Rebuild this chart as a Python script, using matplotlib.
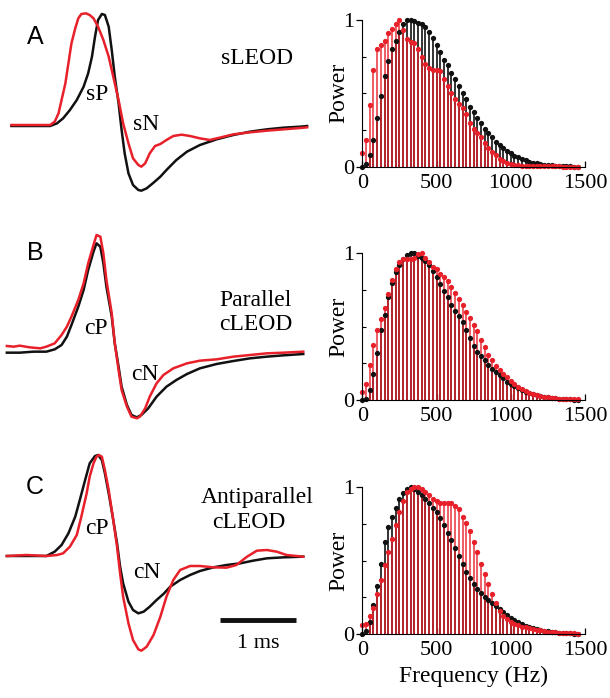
import numpy as np
import matplotlib as mpl
import matplotlib.pyplot as plt

mpl.rc('font', family='Liberation Serif', size=16)

RED = '#e8202a'
BLACK = '#111111'

# power spectra, 25 Hz bins
freqs = np.arange(0, 1475, 25)

pow_a_black = [0, .016, .08, .18, .33, .48, .62, .72, .80, .86, .92, .97, 1.0, 1.0, .99, .98, .97, .955,
               .92, .88, .83, .78, .73, .69, .64, .60, .55, .50, .46, .41, .375, .335, .295, .26, .23,
               .20, .17, .148, .125, .107, .09, .075, .063, .052, .043, .035, .028, .023, .018, .014,
               .011, .009, .007, .005, .004, .003, .002, .001, .001]
pow_a_red = [.09, .18, .42, .66, .80, .83, .86, .91, .94, .97, 1.0, .93, .87, .85, .84, .80, .75, .70,
             .67, .66, .66, .65, .60, .55, .50, .46, .43, .40, .36, .30, .26, .23, .20, .16, .13, .10,
             .08, .055, .04, .025, .018, .013, .01, .008, .007, .006, .005, .004, .004, .003, .003,
             .002, .002, .002, .001, .001, .001, .001, .001]
pow_b_black = [0, .01, .07, .18, .32, .48, .58, .70, .80, .87, .92, .96, .99, 1.0, 1.0, .98, .97, .95,
               .92, .88, .84, .79, .74, .70, .65, .61, .57, .53, .48, .42, .37, .33, .30, .27, .24,
               .21, .19, .17, .15, .125, .11, .095, .08, .068, .057, .048, .04, .033, .027, .022,
               .018, .014, .011, .009, .007, .005, .004, .003, .002]
pow_b_red = [.057, .11, .24, .375, .48, .55, .63, .72, .82, .89, .94, .96, .96, .96, .97, .995, 1.0,
             .97, .94, .91, .89, .86, .84, .81, .77, .73, .69, .65, .60, .56, .51, .47, .41, .36, .31,
             .27, .23, .205, .18, .155, .13, .11, .09, .075, .06, .05, .04, .035, .028, .022, .018,
             .015, .012, .01, .008, .007, .006, .005, .005]
pow_c_black = [0, .02, .08, .20, .33, .48, .63, .73, .80, .86, .92, .96, .99, 1.0, .99, .97, .95, .92,
               .89, .86, .83, .79, .74, .69, .64, .585, .53, .475, .42, .38, .34, .31, .28, .255, .23,
               .21, .19, .17, .15, .13, .11, .095, .08, .068, .057, .048, .04, .033, .027, .022,
               .018, .014, .011, .009, .007, .005, .004, .003, .002]
pow_c_red = [.06, .07, .12, .18, .27, .37, .47, .56, .65, .74, .83, .91, .97, .99, 1.0, 1.0, .99, .97,
             .95, .92, .91, .895, .89, .89, .89, .875, .85, .80, .76, .70, .63, .56, .48, .41, .34,
             .27, .21, .16, .125, .10, .085, .07, .06, .05, .045, .04, .035, .03, .025, .02, .017,
             .014, .011, .009, .007, .006, .005, .004, .003]

# waveforms: time (ms), amplitude (a.u.)
wa_black_t = [.15, .66, .75, .83, .92, 1.01, 1.10, 1.16, 1.21, 1.25, 1.29, 1.34, 1.38, 1.43, 1.47, 1.51,
              1.56, 1.60, 1.64, 1.69, 1.75, 1.82, 1.86, 1.93, 2.02, 2.11, 2.19, 2.32, 2.46, 2.63, 2.85,
              3.07, 3.29, 3.51, 3.73, 3.95, 4.04]
wa_black_v = [-3, -3, 5, 20, 45, 75, 115, 155, 205, 265, 315, 333, 330, 295, 225, 145, 65, -15, -85,
              -145, -180, -195, -197, -190, -173, -155, -135, -105, -80, -60, -43, -30, -20, -13, -8,
              -5, -3]
wa_red_t = [.15, .66, .72, .77, .81, .86, .90, .94, .99, 1.03, 1.07, 1.13, 1.18, 1.23, 1.29, 1.36, 1.43,
            1.49, 1.56, 1.62, 1.69, 1.75, 1.82, 1.86, 1.91, 1.97, 2.04, 2.11, 2.19, 2.28, 2.39, 2.50,
            2.63, 2.76, 2.89, 3.07, 3.29, 3.51, 3.73, 3.95, 4.04]
wa_red_v = [0, 0, 10, 35, 75, 125, 185, 245, 290, 320, 333, 335, 330, 320, 295, 255, 205, 145, 75, 5,
            -55, -100, -120, -125, -115, -85, -63, -57, -45, -33, -29, -33, -40, -45, -38, -28, -22,
            -17, -13, -9, -7]

wb_black_t = [.09, .26, .44, .61, .72, .81, .88, .94, 1.03, 1.10, 1.16, 1.23, 1.27, 1.32, 1.36, 1.40,
              1.47, 1.51, 1.56, 1.60, 1.67, 1.73, 1.80, 1.86, 1.95, 2.06, 2.19, 2.32, 2.46, 2.63, 2.85,
              3.07, 3.29, 3.51, 3.73, 3.99]
wb_black_v = [2, 2, 5, 5, 12, 25, 50, 85, 140, 190, 250, 305, 330, 320, 270, 200, 110, 30, -40, -100,
              -155, -185, -192, -185, -165, -130, -100, -80, -62, -45, -32, -23, -15, -10, -6, -2]
wb_red_t = [.09, .18, .26, .39, .53, .61, .72, .81, .88, .94, 1.03, 1.10, 1.16, 1.23, 1.27, 1.32, 1.36,
            1.40, 1.47, 1.51, 1.56, 1.60, 1.67, 1.73, 1.80, 1.84, 1.91, 1.97, 2.06, 2.15, 2.28, 2.46,
            2.63, 2.85, 3.07, 3.29, 3.51, 3.73, 3.99]
wb_red_v = [22, 20, 23, 18, 15, 20, 30, 55, 80, 110, 160, 210, 270, 325, 355, 350, 300, 220, 120, 30,
            -50, -110, -160, -190, -195, -190, -165, -130, -90, -65, -45, -30, -22, -18, -10, -5, 0,
            2, 5]

wc_black_t = [.09, .35, .61, .72, .81, .90, .99, 1.05, 1.12, 1.18, 1.25, 1.29, 1.34, 1.38, 1.43, 1.49,
              1.54, 1.58, 1.62, 1.69, 1.75, 1.82, 1.89, 1.97, 2.06, 2.15, 2.24, 2.37, 2.50, 2.63, 2.81,
              2.98, 3.16, 3.33, 3.51, 3.73, 3.99]
wc_black_v = [0, 0, 0, 13, 33, 68, 118, 168, 228, 278, 300, 303, 288, 248, 188, 108, 38, -32, -82,
              -137, -162, -172, -167, -152, -132, -114, -92, -72, -57, -45, -34, -27, -22, -14, -7,
              -4, -2]
wc_red_t = [.09, .35, .61, .75, .83, .92, 1.01, 1.07, 1.14, 1.18, 1.23, 1.27, 1.30, 1.34, 1.38, 1.43,
            1.49, 1.54, 1.58, 1.62, 1.69, 1.75, 1.82, 1.86, 1.93, 2.02, 2.11, 2.19, 2.28, 2.37, 2.50,
            2.63, 2.81, 2.98, 3.11, 3.25, 3.38, 3.51, 3.64, 3.77, 3.99]
wc_red_v = [0, 3, 0, 3, 8, 28, 63, 118, 188, 238, 278, 298, 303, 298, 258, 198, 108, 28, -52, -122,
            -202, -252, -280, -284, -272, -237, -182, -122, -72, -42, -30, -30, -34, -35, -27, -2,
            16, 18, 13, 3, -2]

W, H = 610, 698
fig = plt.figure(figsize=(W / 100, H / 100), dpi=100)


def px_axes(x0, y0, x1, y1):
    return fig.add_axes([x0 / W, 1 - y1 / H, (x1 - x0) / W, (y1 - y0) / H])


def wave_panel(top, bottom, ylim, black, red, letter, labels):
    ax = px_axes(0, top, 320, bottom)
    ax.plot(*black, color=BLACK, lw=1.8, solid_joinstyle='round')
    ax.plot(*red, color=RED, lw=1.8, solid_joinstyle='round')
    ax.set_xlim(0, 4.21)
    ax.set_ylim(*ylim)
    ax.axis('off')
    ax.text(0.11, letter[1], letter[0], transform=ax.transAxes, family='Liberation Sans',
            fontsize=18, ha='center', va='center')
    for txt, x, y in labels:
        ax.text(x, y, txt, transform=ax.transAxes, fontsize=17, ha='center', va='center')
    return ax


def spec_panel(top, black, red, xlabel=False):
    ax = px_axes(362.3, top, 585, top + 146.7)
    ax.vlines(freqs, 0, black, color=BLACK, lw=1.2)
    ax.vlines(freqs, 0, red, color=RED, lw=1.2, alpha=0.85)
    ax.plot(freqs, black, 'o', color=BLACK, ms=3.8, mew=0, clip_on=False)
    ax.plot(freqs, red, 'o', color=RED, ms=3.8, mew=0, clip_on=False)
    ax.set_xlim(0, 1500)
    ax.set_ylim(0, 1)
    ax.spines[['top', 'right']].set_visible(False)
    ax.set_xticks([0, 500, 1000, 1500])
    ax.set_yticks([0, 1])
    ax.set_yticks([0.25, 0.5, 0.75], minor=True)
    ax.tick_params(axis='x', direction='in', length=4, width=0.9, pad=5)
    ax.tick_params(axis='y', direction='out', length=4, width=0.9, pad=2)
    ax.tick_params(axis='y', which='minor', direction='in', length=3, width=0.8)
    ax.set_ylabel('Power', fontsize=17)
    ax.yaxis.set_label_coords(-0.06, 0.5)
    if xlabel:
        ax.set_xlabel('Frequency (Hz)', fontsize=17, labelpad=4)
    return ax


wave_panel(0, 200, (-225, 375), (wa_black_t, wa_black_v), (wa_red_t, wa_red_v),
           ('A', 0.815), [('sLEOD', 0.803, 0.71), ('sP', 0.303, 0.525), ('sN', 0.456, 0.375)])
wave_panel(220, 420, (-200, 400), (wb_black_t, wb_black_v), (wb_red_t, wb_red_v),
           ('B', 0.835), [('Parallel', 0.80, 0.60), ('cLEOD', 0.80, 0.475),
                          ('cP', 0.30, 0.46), ('cN', 0.453, 0.225)])
axc = wave_panel(440, 670, (-342, 348), (wc_black_t, wc_black_v), (wc_red_t, wc_red_v),
                 ('C', 0.796), [('Antiparallel', 0.803, 0.748), ('cLEOD', 0.778, 0.643),
                                ('cP', 0.303, 0.617), ('cN', 0.459, 0.422)])
# 1 ms scale bar
axc.plot([2.895, 3.895], [-192, -192], color=BLACK, lw=3.5, solid_capstyle='butt')
axc.text(3.395, -264, '1 ms', fontsize=16, ha='center', va='center')

spec_panel(20, pow_a_black, pow_a_red)
spec_panel(253.3, pow_b_black, pow_b_red)
spec_panel(487.3, pow_c_black, pow_c_red, xlabel=True)

fig.savefig('out.png', dpi=100)
